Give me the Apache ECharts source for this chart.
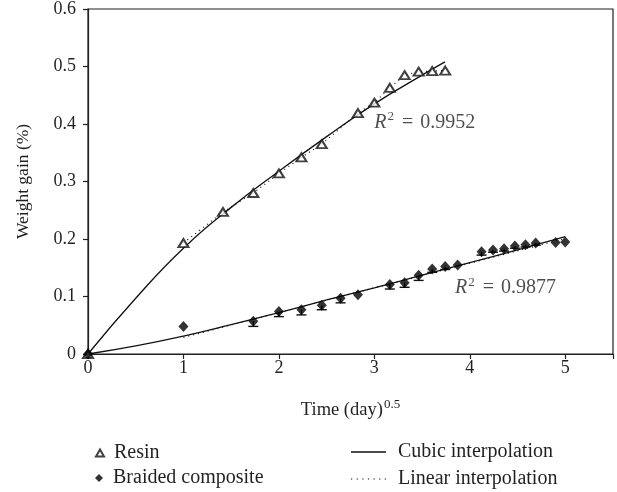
<!DOCTYPE html>
<html><head><meta charset="utf-8">
<script src="https://cdn.jsdelivr.net/npm/echarts@6/dist/echarts.min.js"></script>
<style>html,body{margin:0;padding:0;background:#fff}#c{width:617px;height:492px}</style>
</head><body><div id="c"></div><script>
// Measured data (x = sqrt(day), y = weight gain %)
const resinX=[0,1,1.414,1.732,2,2.236,2.449,2.828,3,3.162,3.317,3.464,3.606,3.742];
const resinY=[0,0.193,0.247,0.280,0.314,0.342,0.365,0.419,0.437,0.463,0.485,0.491,0.492,0.493];
const compX=[0,1,1.732,2,2.236,2.449,2.646,2.828,3.162,3.317,3.464,3.606,3.742,3.873,4.123,4.243,4.359,4.472,4.583,4.690,4.899,5.0];
const compY=[0,0.048,0.057,0.074,0.077,0.085,0.097,0.103,0.121,0.124,0.137,0.148,0.152,0.155,0.178,0.181,0.183,0.188,0.190,0.193,0.194,0.195];
const compErr=[0,0,0.009,0.009,0.009,0.008,0.008,0,0.008,0.008,0.009,0.006,0.005,0,0.006,0.004,0.004,0.004,0.004,0.004,0,0];
// Cubic fit curves
const resinCubX=[0,0.5,1,1.5,2,2.5,3,3.5,3.74];
const resinCubY=[0,0.097,0.184,0.255,0.318,0.378,0.435,0.485,0.508];
const compCubX=[0,0.5,1,1.5,2,2.5,3,3.5,4,4.5,5];
const compCubY=[0,0.014,0.031,0.051,0.072,0.094,0.115,0.137,0.159,0.181,0.204];
// Linear interpolation (dotted)
const compLinX=[1,5];
const compLinY=[0.029,0.201];
// Annotations
const annX=[3.0,3.845];
const annY=[0.403,0.115];
const annText=['0.9952','0.9877'];
const xTicks=[0,1,2,3,4,5];
const yTicks=[0,0.1,0.2,0.3,0.4,0.5,0.6];

const zip=(xs,ys)=>xs.map((x,i)=>[x,ys[i]]);
const FONT='Liberation Serif';
const TXT='#231f20';
const INK='#111';
const DOTS='path://M0,0h1.2v1h-1.2zM5.6,0h1.2v1h-1.2zM11.2,0h1.2v1h-1.2zM16.8,0h1.2v1h-1.2zM22.4,0h1.2v1h-1.2zM28,0h1.2v1h-1.2zM33.6,0h1.2v1h-1.2z';
const legendText={fontFamily:FONT,fontSize:20,color:TXT};
const chart=echarts.init(document.getElementById('c'),null,{renderer:'canvas'});
chart.setOption({
  animation:false,
  backgroundColor:'#fff',
  grid:{left:88,right:4,top:9,bottom:138,show:true,borderColor:'#231f20',borderWidth:1.2,backgroundColor:'transparent'},
  xAxis:{type:'value',min:0,max:5.5,interval:1,
    axisLine:{show:true,onZero:false,lineStyle:{color:'#231f20',width:1.2}},
    axisTick:{show:true,inside:false,length:5,lineStyle:{color:'#231f20',width:1.2}},
    splitLine:{show:false},
    axisLabel:{fontFamily:FONT,fontSize:18,color:TXT,margin:5,
      formatter:v=>xTicks.includes(v)?String(v):''},
    name:'{a|Time (day)}{s|0.5}',nameLocation:'middle',nameGap:44,
    nameTextStyle:{rich:{a:{fontFamily:FONT,fontSize:18.5,color:TXT},s:{fontFamily:FONT,fontSize:13,color:TXT,padding:[0,0,11,1]}}}
  },
  yAxis:{type:'value',min:0,max:0.6,interval:0.1,
    axisLine:{show:true,onZero:false,lineStyle:{color:'#231f20',width:1.2}},
    axisTick:{show:true,inside:false,length:5,lineStyle:{color:'#231f20',width:1.2}},
    splitLine:{show:false},
    axisLabel:{fontFamily:FONT,fontSize:18,color:TXT,margin:12,
      formatter:v=>{const t=yTicks.find(y=>Math.abs(y-v)<1e-9);return t===undefined?'':(t===0?'0':t.toFixed(1));}},
    name:'Weight gain (%)',nameLocation:'middle',nameGap:56,
    nameTextStyle:{fontFamily:FONT,fontSize:17.5,color:TXT}
  },
  legend:[
    {left:95,top:443,padding:0,itemWidth:8,itemHeight:7,data:['Resin'],
     textStyle:Object.assign({padding:[0,0,0,5]},legendText)},
    {left:95,top:468,padding:0,itemWidth:8,itemHeight:8,data:['Braided composite'],
     textStyle:Object.assign({padding:[0,0,0,5]},legendText)},
    {left:351,top:442,padding:0,itemWidth:35,itemHeight:1.3,data:[{name:'Cubic interpolation',icon:'rect'}],
     textStyle:Object.assign({padding:[0,0,0,7]},legendText)},
    {left:351,top:469,padding:0,itemWidth:35,itemHeight:1.3,data:[{name:'Linear interpolation',icon:DOTS}],
     textStyle:Object.assign({padding:[0,0,0,7]},legendText)}
  ],
  series:[
    {name:'Cubic interpolation',type:'line',data:zip(resinCubX,resinCubY),smooth:true,symbol:'none',
     lineStyle:{color:INK,width:1.3},itemStyle:{color:INK},z:2},
    {name:'Cubic interpolation',type:'line',data:zip(compCubX,compCubY),smooth:true,symbol:'none',
     lineStyle:{color:INK,width:1.3},itemStyle:{color:INK},z:2},
    {name:'Linear interpolation',type:'line',data:zip(resinX.slice(1),resinY.slice(1)),symbol:'none',
     lineStyle:{color:INK,width:1.2,type:[1,4]},itemStyle:{color:INK},z:2},
    {name:'Linear interpolation',type:'line',data:zip(compLinX,compLinY),symbol:'none',
     lineStyle:{color:INK,width:1.2,type:[1,4]},itemStyle:{color:INK},z:2},
    {name:'errbars',type:'custom',silent:true,z:3,
     data:compX.map((x,i)=>[x,compY[i],compY[i]-compErr[i]]).filter((d,i)=>compErr[i]>0),
     renderItem:(params,api)=>{
       const top=api.coord([api.value(0),api.value(1)]);
       const bot=api.coord([api.value(0),api.value(2)]);
       const st={stroke:INK,lineWidth:1.4};
       return {type:'group',children:[
         {type:'line',shape:{x1:top[0],y1:top[1],x2:bot[0],y2:bot[1]},style:st},
         {type:'line',shape:{x1:bot[0]-5,y1:bot[1],x2:bot[0]+5,y2:bot[1]},style:st}]};
     }},
    {name:'Resin',type:'scatter',data:zip(resinX,resinY),symbol:'emptyTriangle',symbolSize:[10,8],
     itemStyle:{color:INK,borderColor:INK,borderWidth:1.8},z:4},
    {name:'Braided composite',type:'scatter',data:zip(compX,compY),symbol:'diamond',symbolSize:[10,11],
     itemStyle:{color:'#000'},z:4},
    {name:'ann',type:'scatter',data:zip(annX,annY).map((p,i)=>({value:p,text:annText[i]})),symbolSize:0,silent:true,
     label:{show:true,position:'right',distance:0,
       formatter:p=>'{r|R}{s|2}{e|=}{n|'+p.data.text+'}',
       rich:{r:{fontFamily:FONT,fontStyle:'italic',fontSize:20,color:TXT},
             s:{fontFamily:FONT,fontSize:13,color:TXT,padding:[0,0,11,1]},
             e:{fontFamily:FONT,fontSize:20,color:TXT,padding:[0,7,0,8]},
             n:{fontFamily:FONT,fontSize:20,color:TXT}}}}
  ]
});
</script></body></html>
